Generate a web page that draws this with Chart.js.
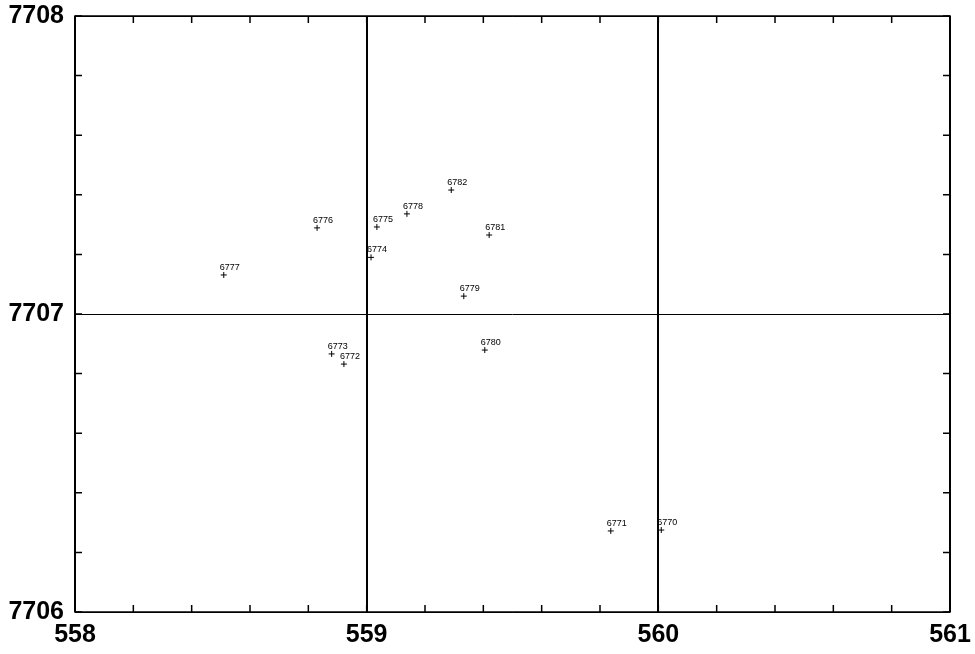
<!DOCTYPE html>
<html>
<head>
<meta charset="utf-8">
<script src="https://cdn.jsdelivr.net/npm/chart.js@4"></script>
<style>
  html, body { margin: 0; padding: 0; background: #fff; }
  #box { width: 975px; height: 654px; }
</style>
</head>
<body>
<div id="box"><canvas id="mapa"></canvas></div>
<script>
// estacoes: nome, leste (x) e norte (y)
var nomes = ['6777', '6776', '6775', '6778', '6782', '6781', '6774', '6779', '6773', '6772', '6780', '6771', '6770'];
var leste = [558.51, 558.83, 559.035, 559.138, 559.29, 559.42, 559.015, 559.333, 558.88, 558.922, 559.405, 559.837, 560.01];
var norte = [7707.131, 7707.289, 7707.292, 7707.336, 7707.416, 7707.265, 7707.19, 7707.06, 7706.866, 7706.832, 7706.879, 7706.272, 7706.275];

var xMin = 558, xMax = 561;
var yMin = 7706, yMax = 7708;
var passo = 0.2;

function inteiro(v) {
  return Math.abs(v - Math.round(v)) < 1e-6;
}

var pontos = leste.map((x, i) => ({ x: x, y: norte[i] }));

// rotulos das estacoes e marcas internas dos eixos
var extras = {
  id: 'extras',
  afterDatasetsDraw(chart) {
    var ctx = chart.ctx;
    var area = chart.chartArea;
    var sx = chart.scales.x, sy = chart.scales.y;

    ctx.save();
    ctx.strokeStyle = '#000';
    ctx.lineWidth = 1.5;
    ctx.strokeRect(area.left, area.top, area.right - area.left, area.bottom - area.top);

    ctx.beginPath();
    for (var v = xMin; v <= xMax + 1e-6; v += passo) {
      var px = sx.getPixelForValue(v);
      ctx.moveTo(px, area.bottom); ctx.lineTo(px, area.bottom - 7);
      ctx.moveTo(px, area.top); ctx.lineTo(px, area.top + 7);
    }
    for (var w = yMin; w <= yMax + 1e-6; w += passo) {
      var py = sy.getPixelForValue(w);
      ctx.moveTo(area.left, py); ctx.lineTo(area.left + 7, py);
      ctx.moveTo(area.right, py); ctx.lineTo(area.right - 7, py);
    }
    ctx.stroke();

    var meta = chart.getDatasetMeta(0);
    ctx.fillStyle = '#000';
    ctx.font = '9px "Liberation Sans"';
    ctx.textBaseline = 'alphabetic';
    meta.data.forEach((p, i) => {
      ctx.fillText(nomes[i], p.x - 4, p.y - 5);
    });
    ctx.restore();
  }
};

new Chart(document.getElementById('mapa'), {
  type: 'scatter',
  data: {
    datasets: [{
      data: pontos,
      pointStyle: 'cross',
      pointRadius: 3,
      borderColor: '#000',
      borderWidth: 1,
      backgroundColor: '#000'
    }]
  },
  options: {
    responsive: true,
    maintainAspectRatio: false,
    animation: false,
    layout: { padding: { top: 16, right: 25, left: 0, bottom: 0 } },
    plugins: { legend: { display: false }, tooltip: { enabled: false } },
    scales: {
      x: {
        type: 'linear',
        min: xMin, max: xMax,
        afterFit(scale) {
          scale.height = 42;
          scale.paddingLeft = 0;
          scale.paddingRight = 0;
        },
        border: { display: false },
        grid: {
          drawTicks: false,
          color: (c) => (c.tick && inteiro(c.tick.value)) ? '#000' : 'rgba(0,0,0,0)',
          lineWidth: 2
        },
        ticks: {
          stepSize: passo,
          autoSkip: false,
          maxRotation: 0,
          padding: 4,
          color: '#000',
          font: { family: '"Liberation Sans"', size: 25, weight: 'bold', lineHeight: 1.5 },
          callback: (v) => inteiro(v) ? String(Math.round(v)) : ''
        }
      },
      y: {
        type: 'linear',
        min: yMin, max: yMax,
        afterFit(scale) {
          scale.width = 75;
          scale.paddingTop = 0;
          scale.paddingBottom = 0;
        },
        border: { display: false },
        grid: {
          drawTicks: false,
          color: (c) => (c.tick && inteiro(c.tick.value)) ? '#000' : 'rgba(0,0,0,0)',
          lineWidth: 1
        },
        ticks: {
          stepSize: passo,
          autoSkip: false,
          padding: 11,
          color: '#000',
          font: { family: '"Liberation Sans"', size: 25, weight: 'bold' },
          callback: (v) => inteiro(v) ? String(Math.round(v)) : ''
        }
      }
    }
  },
  plugins: [extras]
});
</script>
</body>
</html>
